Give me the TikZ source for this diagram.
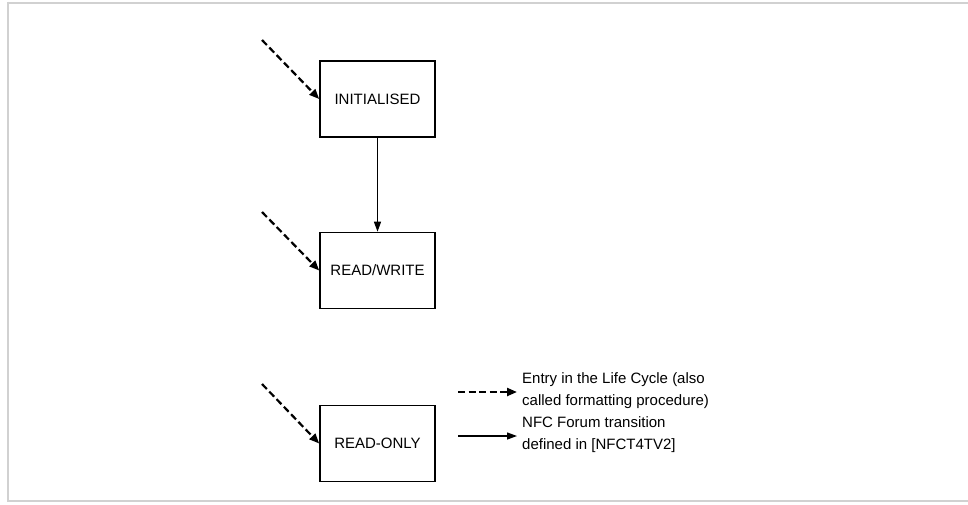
\documentclass[tikz,border=0pt]{standalone}
\usepackage{fontspec}
\setmainfont{Liberation Sans}
\usetikzlibrary{arrows.meta}
\begin{document}
\begin{tikzpicture}[x=1pt,y=-1pt,
  state/.style={draw, line width=1.6pt, minimum width=115pt, minimum height=76pt, inner sep=0pt, font=\fontsize{15}{17}\selectfont},
  entry/.style={dash pattern=on 7pt off 3.5pt, line width=2.2pt, -{Triangle[length=10pt,width=8pt]}},
  trans/.style={line width=1.3pt, -{Triangle[length=10pt,width=7pt]}},
  legtext/.style={anchor=west, align=left, inner sep=0pt, font=\fontsize{15}{22}\selectfont},
  frame/.style={draw=black!18, line width=2pt}]
\useasboundingbox (0,0) rectangle (968,504);
\draw[frame] (8,2.5) -- (968,2.5);
\draw[frame] (8,1.5) -- (8,501);
\draw[frame] (7,501) -- (968,501);
\node[state] (init) at (377.5,99) {INITIALISED};
\node[state] (rw) at (377.5,270.5) {READ/WRITE};
\node[state] (ro) at (377.5,443.5) {READ-ONLY};
\coordinate (e1) at (262,40);
\coordinate (e2) at (262,212);
\coordinate (e3) at (262,384);
\draw[entry] (e1) -- (init.west);
\draw[entry] (e2) -- (rw.west);
\draw[entry] (e3) -- (ro.west);
\draw[trans] (init.south) -- (rw.north);
\coordinate (l1a) at (458,392);
\node[legtext] (l1t) at (522,391) {Entry in the Life Cycle (also\\called formatting procedure)};
\draw[entry, shorten >=5pt] (l1a) -- (l1a -| l1t.west);
\coordinate (l2a) at (458,436);
\node[legtext] (l2t) at (522,435) {NFC Forum transition\\defined in [NFCT4TV2]};
\draw[trans, shorten >=5pt] (l2a) -- (l2a -| l2t.west);
\end{tikzpicture}
\end{document}
